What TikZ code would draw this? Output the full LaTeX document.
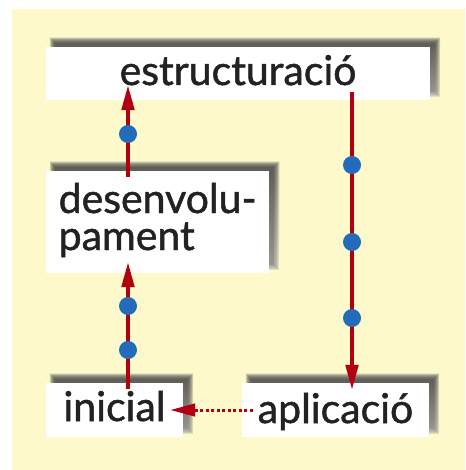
\documentclass[tikz,border=0pt]{standalone}
\usepackage{fontspec}
\setmainfont{Lato}
\newfontfamily\boxfont{Lato}[FakeBold=1.2]
\usetikzlibrary{arrows.meta,calc}

\definecolor{paper}{RGB}{253,249,202}
\definecolor{flowred}{RGB}{178,0,18}
\definecolor{stepblue}{RGB}{36,108,186}
\definecolor{shade}{RGB}{100,98,70}
\definecolor{ink}{RGB}{34,34,34}

\pgfdeclarelayer{shadows}
\pgfsetlayers{shadows,main}

\tikzset{
  stagebox/.style={fill=white, inner sep=0pt, text=ink,
    font=\boxfont\fontsize{41}{37}\selectfont},
  flow/.style={draw=flowred, line width=3.6pt,
    -{Triangle[length=25pt,width=12.5pt]}},
  backflow/.style={flow, line width=3pt, dash pattern=on 3pt off 2.5pt},
  stepdot/.style={circle, fill=stepblue, inner sep=0pt, minimum size=18pt}
}

% soft drop shadow, offset up and to the right
\newcommand{\softshadow}[1]{%
  \foreach \e in {3,2,1,0,-1,-2}{%
    \fill[shade, opacity=.15]
      ($(#1.south west)+(7-\e,-6+\e)$) rectangle ($(#1.north east)+(7+\e,-6-\e)$);}}

\begin{document}
\begin{tikzpicture}[x=1pt,y=-1pt]
\useasboundingbox (0,0) rectangle (465,470);
\begin{pgfonlayer}{shadows}
  \fill[paper] (12,9) rectangle (465,470);
\end{pgfonlayer}

% boxes (placed by their text baselines)
\node[stagebox, minimum width=384pt, text height=38pt, text depth=15pt,
      anchor=base] (estr) at (238,85) {estructuració};
\node[stagebox, minimum width=223pt, inner xsep=9pt, text height=42pt, text depth=60pt,
      anchor=base west] (desen) at (46,213)
      {\vtop{\hbox{desenvolu-}\hbox{pament}}};
\node[stagebox, minimum width=137pt, text height=38pt, text depth=16pt,
      anchor=base] (inic) at (114.5,421) {inicial};
\node[stagebox, minimum width=187pt, text height=40pt, text depth=14pt,
      anchor=base] (aplic) at (335.5,423) {aplicació};

% shadows go beneath the boxes
\begin{pgfonlayer}{shadows}
  \softshadow{estr}
  \softshadow{desen}
  \softshadow{inic}
  \softshadow{aplic}
\end{pgfonlayer}

% column guides
\coordinate (colL) at (128,0);
\coordinate (colR) at (352,0);

% connectors
\draw[flow, shorten <=-6pt, shorten >=-11pt] (inic.north -| colL) -- (desen.south -| colL);
\draw[flow, shorten <=-6pt, shorten >=-15pt] (desen.north -| colL) -- (estr.south -| colL);
\draw[flow, shorten <=-8pt, shorten >=-7pt] (estr.south -| colR) -- (aplic.north -| colR);
\draw[backflow, shorten <=-11pt, shorten >=-13pt] (aplic.west) -- (inic.east);

% step markers
\node[stepdot] (d1) at (128,134) {};
\node[stepdot] (d2) at (128,306) {};
\node[stepdot] (d3) at (128,350) {};
\node[stepdot] (d4) at (352,165) {};
\node[stepdot] (d5) at (352,242) {};
\node[stepdot] (d6) at (352,318) {};
\end{tikzpicture}
\end{document}
